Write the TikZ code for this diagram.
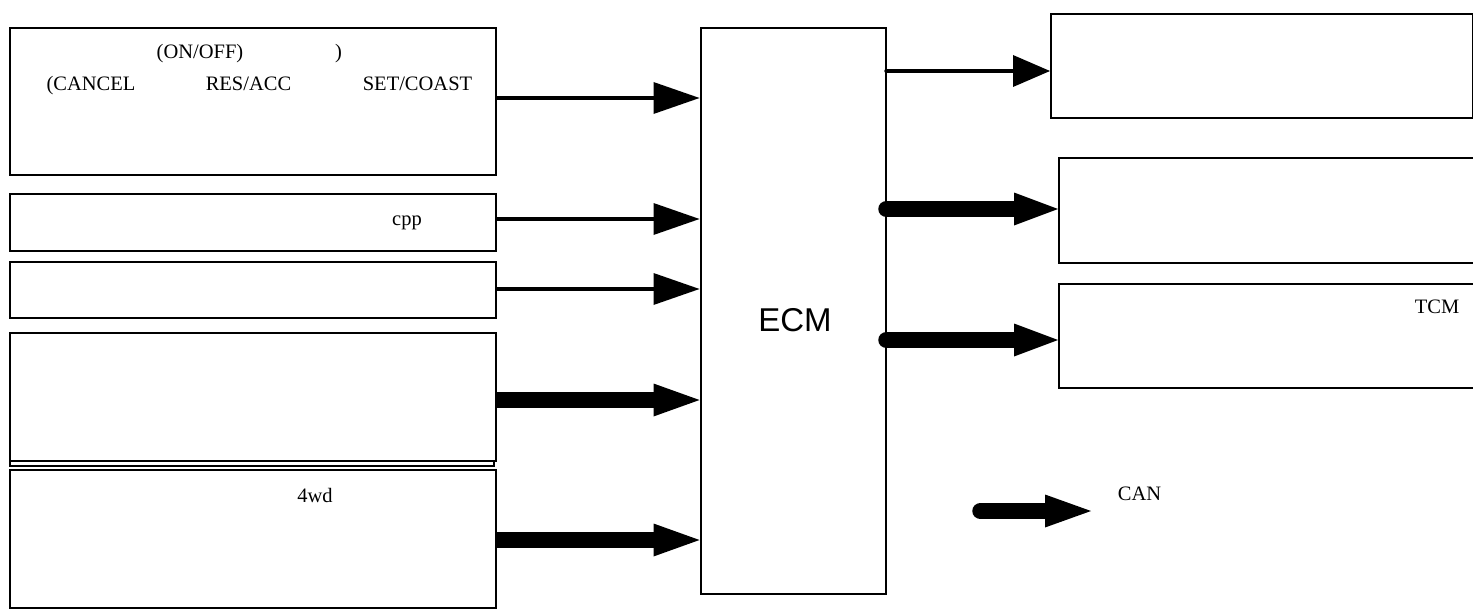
\documentclass[tikz,border=0pt]{standalone}
\usepackage{fontspec}
\setmainfont{Liberation Serif}
\newfontfamily\ecmfont{Liberation Sans}
\usetikzlibrary{arrows.meta}

\begin{document}
\begin{tikzpicture}[x=1pt,y=-1pt,
  box/.style={draw, line width=2pt, inner sep=0pt, anchor=north west},
  lbl/.style={inner sep=0pt, anchor=base, font=\fontsize{20.5}{24}\selectfont},
  sigin/.style={line width=4.5pt, -{Triangle[length=46pt,width=32pt,line width=0pt]}},
  busin/.style={line width=16.5pt, -{Triangle[length=46pt,width=33pt,line width=0pt]}},
  sigout/.style={line width=4.5pt, line cap=round, -{Triangle[length=37pt,width=32pt,line width=0pt]}},
  busout/.style={line width=16.5pt, line cap=round, -{Triangle[length=44pt,width=33pt,line width=0pt]}},
  canbus/.style={line width=16.5pt, line cap=round, -{Triangle[length=46pt,width=33pt,line width=0pt]}}
]
\useasboundingbox (0,0) rectangle (1473,610);

% input blocks
\node[box, minimum width=486pt, minimum height=147pt] (b1) at (9,27) {};
\node[box, minimum width=486pt, minimum height=57pt]  (b2) at (9,193) {};
\node[box, minimum width=486pt, minimum height=56pt]  (b3) at (9,261) {};
\node[box, minimum width=486pt, minimum height=128pt] (b4) at (9,332) {};
\node[box, line width=1.5pt, minimum width=484pt, minimum height=5pt] (strip) at (9,460) {};
\node[box, minimum width=486pt, minimum height=138pt] (b5) at (9,469) {};

% control unit
\node[box, minimum width=185pt, minimum height=565pt] (ecm) at (699.5,27.5) {};
\node[inner sep=0pt, anchor=base, font=\ecmfont\fontsize{33}{38}\selectfont] (ecmlbl) at (795,331) {ECM};

% output blocks
\node[box, minimum width=422pt, minimum height=104pt] (r1) at (1050,13) {};
\node[box, minimum width=420pt, minimum height=105pt] (r2) at (1058,157) {};
\node[box, minimum width=420pt, minimum height=104pt] (r3) at (1058,283) {};

% texts
\node[lbl] (t1a) at (200,59) {(ON/OFF)};
\node[lbl] (t1b) at (338.5,59) {)};
\node[lbl] (t1c) at (91,90) {(CANCEL};
\node[lbl] (t1d) at (248.5,90) {RES/ACC};
\node[lbl] (t1e) at (417.5,90) {SET/COAST};
\node[lbl] (cpp) at (407,225) {cpp};
\node[lbl] (wd) at (315,502) {4wd};
\node[lbl] (tcm) at (1437,313) {TCM};
\node[lbl] (can) at (1139.5,500) {CAN};

% input connectors
\coordinate (a1) at ([yshift=3.5pt]b1.east);
\coordinate (a2) at ([yshift=3.5pt]b2.east);
\coordinate (a3) at ([yshift=1pt]b3.east);
\coordinate (a4) at ([yshift=-3pt]b4.east);
\coordinate (a5) at ([yshift=-1pt]b5.east);
\draw[sigin] (a1) -- (a1 -| ecm.west);
\draw[sigin] (a2) -- (a2 -| ecm.west);
\draw[sigin] (a3) -- (a3 -| ecm.west);
\draw[busin] (a4) -- (a4 -| ecm.west);
\draw[busin] (a5) -- (a5 -| ecm.west);

% output connectors
\coordinate (o1) at ([yshift=-5pt]r1.west);
\coordinate (o2) at ([yshift=1.5pt]r2.west);
\coordinate (o3) at ([yshift=-4pt]r3.west);
\draw[sigout] (o1 -| ecm.east) -- (o1);
\draw[busout] (o2 -| ecm.east) -- (o2);
\draw[busout] (o3 -| ecm.east) -- (o3);

% CAN legend arrow
\coordinate (cs) at (980.5,511);
\coordinate (ce) at (1091,511);
\draw[canbus] (cs) -- (ce);
\end{tikzpicture}
\end{document}
